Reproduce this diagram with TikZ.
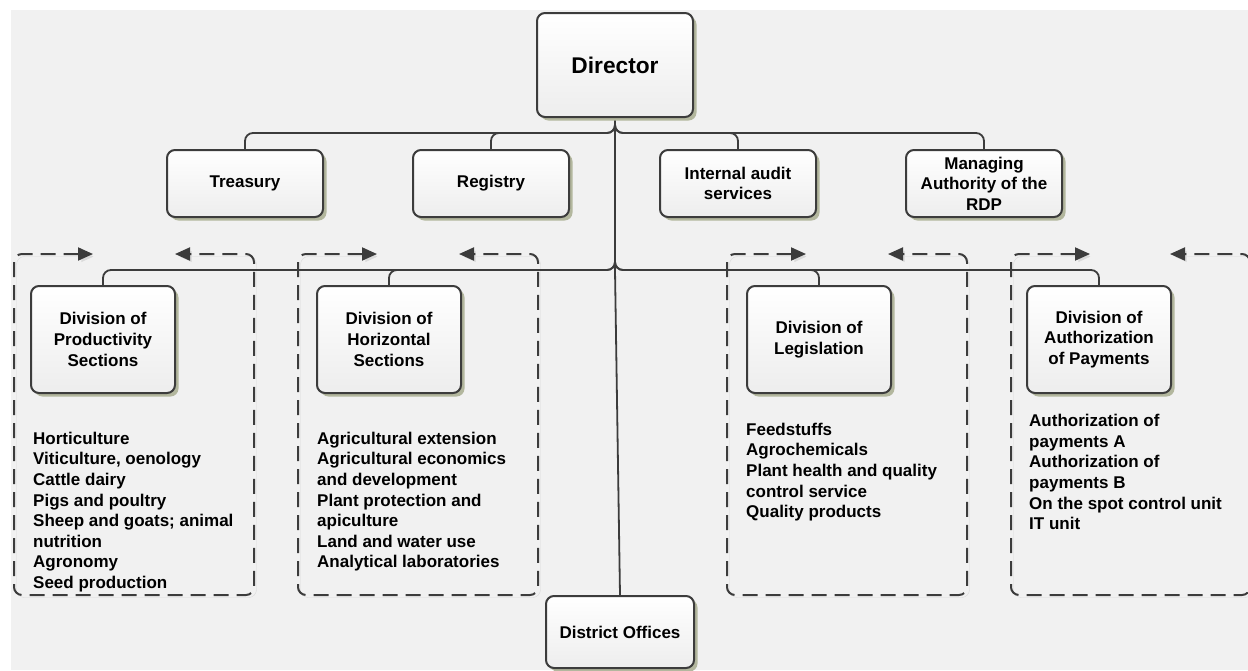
\documentclass[tikz,border=0pt]{standalone}
\usepackage{fontspec}
\setmainfont{Liberation Sans}
\usetikzlibrary{arrows.meta}
\pgfdeclarelayer{under}
\pgfsetlayers{under,main}
\definecolor{bgc}{HTML}{F1F1F1}
\definecolor{ink}{HTML}{3C3C3C}
\definecolor{shade}{HTML}{B3B79E}
\definecolor{dshadow}{HTML}{DADADA}
\tikzset{
  unitbox/.style={draw=ink, line width=2pt, rounded corners=8pt,
    top color=white, bottom color=black!7, align=center, inner sep=2pt,
    font=\fontsize{17}{20.6}\selectfont\bfseries,
    preaction={fill=shade, transform canvas={shift={(3.5pt,-3.5pt)}}}},
  rowone/.style={unitbox, minimum width=156pt, minimum height=67pt},
  division/.style={unitbox, minimum width=144pt, minimum height=107pt},
  conn/.style={draw=ink, line width=1.8pt, rounded corners=8pt},
  grp/.style={draw=ink, line width=2pt, dash pattern=on 15pt off 8pt,
    rounded corners=8pt, >={Triangle[length=15pt,width=13pt]}, <->,
    preaction={draw=dshadow, transform canvas={shift={(2.5pt,-2.5pt)}}}},
  items/.style={anchor=north west, inner sep=0pt, align=left,
    font=\fontsize{17}{20.6}\selectfont\bfseries},
}
\begin{document}
\begin{tikzpicture}[x=1pt, y=-1pt]
  \useasboundingbox (0,0) rectangle (1248,670);

  % bus levels of the chart
  \coordinate (busA) at (615,133);
  \coordinate (busB) at (615,270);

  % units
  \node[unitbox, minimum width=156pt, minimum height=104pt,
        font=\fontsize{22.7}{27}\selectfont\bfseries] (dir) at (615,65) {Director};
  \node[rowone] (tre) at (245,183.5) {Treasury};
  \node[rowone] (reg) at (491,183.5) {Registry};
  \node[rowone] (aud) at (738,183.5) {Internal audit\\services};
  \node[rowone] (man) at (984,183.5) {Managing\\Authority of the\\RDP};
  \node[division] (prod) at (103,339.5) {Division of\\Productivity\\Sections};
  \node[division] (hor) at (389,339.5) {Division of\\Horizontal\\Sections};
  \node[division] (leg) at (819,339.5) {Division of\\Legislation};
  \node[division] (pay) at (1099,339.5) {Division of\\Authorization\\of Payments};
  \node[unitbox, minimum width=148pt, minimum height=72pt] (dist) at (620,632) {District Offices};

  % sections of each division
  \node[items] (lprod) at (33,429.6) {\strut Horticulture\\Viticulture, oenology\\Cattle dairy\\Pigs and poultry\\Sheep and goats; animal\\nutrition\\Agronomy\\Seed production};
  \node[items] (lhor) at (317,429.6) {\strut Agricultural extension\\Agricultural economics\\and development\\Plant protection and\\apiculture\\Land and water use\\Analytical laboratories};
  \node[items] (lleg) at (746,420.6) {\strut Feedstuffs\\Agrochemicals\\Plant health and quality\\control service\\Quality products};
  \node[items] (lpay) at (1029,412) {\strut Authorization of\\payments A\\Authorization of\\payments B\\On the spot control unit\\IT unit};

  \begin{pgfonlayer}{under}
    % canvas
    \fill[white] (0,0) rectangle (1248,670);
    \fill[bgc] (11,10) rectangle (1248,670);

    % dashed frames around each division with its sections
    \draw[grp] (93,254) -- (14,254) -- (14,595) -- (254,595) -- (254,254) -- (175,254);
    \draw[grp] (377,254) -- (298,254) -- (298,595) -- (538,595) -- (538,254) -- (459,254);
    \draw[grp] (806,254) -- (727,254) -- (727,595) -- (967,595) -- (967,254) -- (888,254);
    \draw[grp] (1090,254) -- (1011,254) -- (1011,595) -- (1250,595) -- (1250,254) -- (1170,254);

    % connectors
    \foreach \n in {tre,reg,aud,man}
      \draw[conn] (dir.south) |- (\n.north |- busA) -- (\n.north);
    \foreach \n in {prod,hor,leg,pay}
      \draw[conn] (dir.south) |- (\n.north |- busB) -- (\n.north);
    \draw[conn, rounded corners=0pt] (dir.south) -- (busB) -- (dist.north);
  \end{pgfonlayer}
\end{tikzpicture}
\end{document}
